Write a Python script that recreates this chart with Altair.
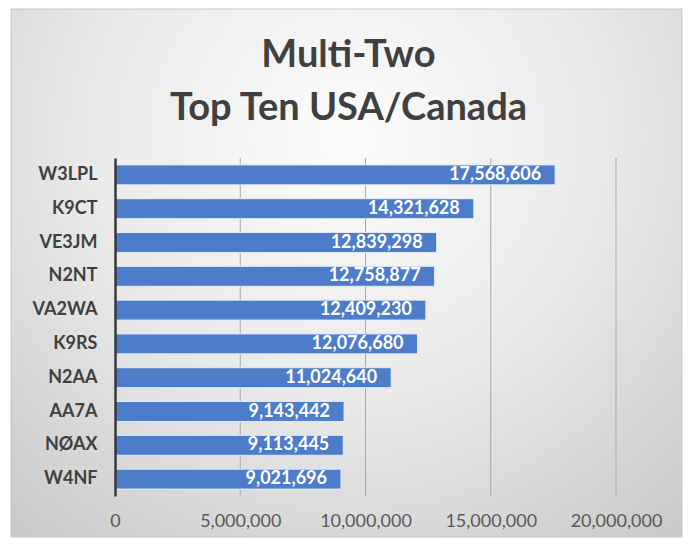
import altair as alt
import pandas as pd

calls = ["W3LPL", "K9CT", "VE3JM", "N2NT", "VA2WA", "K9RS", "N2AA", "AA7A", "NØAX", "W4NF"]
scores = [17568606, 14321628, 12839298, 12758877, 12409230, 12076680, 11024640, 9143442, 9113445, 9021696]
x_ticks = [0, 5000000, 10000000, 15000000, 20000000]
title_lines = ["Multi-Two", "Top Ten USA/Canada"]

df = pd.DataFrame({"call": calls, "score": scores})
ticks_df = pd.DataFrame({"v": x_ticks[1:]})

W, H = 501, 338

bg = alt.Chart(pd.DataFrame({"a": [0]})).mark_rect(
    fill=alt.Gradient(
        gradient="radial",
        stops=[alt.GradientStop(color="#fcfcfc", offset=0),
               alt.GradientStop(color="#eaeaea", offset=0.45),
               alt.GradientStop(color="#c2c2c2", offset=1)],
        x1=0.5, y1=0.3, r1=0, x2=0.5, y2=0.3, r2=0.85),
    stroke="#c6c6c6", strokeWidth=1, clip=False
).encode(x=alt.value(-104), x2=alt.value(567), y=alt.value(-149), y2=alt.value(379))

xscale = alt.Scale(domain=[0, 20000000], nice=False)
xaxis = alt.Axis(values=x_ticks, format=",d", grid=False, domain=False, ticks=False,
                 labelFontSize=18, labelColor="#595959", labelPadding=16,
                 labelOverlap=False, labelFlush=False,
                 labelFont="Lato", title=None, zindex=1)

grid = alt.Chart(ticks_df).mark_rule(color="#a9a9a9", strokeWidth=1).encode(
    x=alt.X("v:Q", scale=xscale, axis=xaxis)
)

bars = alt.Chart(df).mark_bar(color="#4d7ccb", stroke="#e2eaf7", strokeWidth=1).encode(
    x=alt.X("score:Q", scale=xscale, axis=xaxis),
    y=alt.Y("call:N", sort=calls,
            scale=alt.Scale(paddingInner=0.41, paddingOuter=0.205),
            axis=alt.Axis(domainColor="#383838", domainWidth=2.5, ticks=False, grid=False,
                          labelFontSize=18, labelFontWeight="bold", labelColor="#404040",
                          labelFont="Lato", labelPadding=18, title=None, zindex=1))
)

text = alt.Chart(df).mark_text(align="right", dx=-14, color="white", fontSize=18,
                               fontWeight="bold", font="Lato").encode(
    x=alt.X("score:Q", scale=xscale, axis=xaxis),
    y=alt.Y("call:N", sort=calls),
    text=alt.Text("score:Q", format=",d")
)

chart = alt.layer(bg, grid, bars, text).properties(
    width=W, height=H,
    padding={"left": 2, "top": 0, "right": 0, "bottom": 0},
    title=alt.TitleParams(text=title_lines, font="Lato", fontSize=38, fontWeight="bold",
                          color="#404040", lineHeight=53, anchor="middle", dx=-17, offset=-119)
).configure_view(stroke=None).configure(background="white")

chart.save("out.html", embed_options={"renderer": "svg", "actions": False})
